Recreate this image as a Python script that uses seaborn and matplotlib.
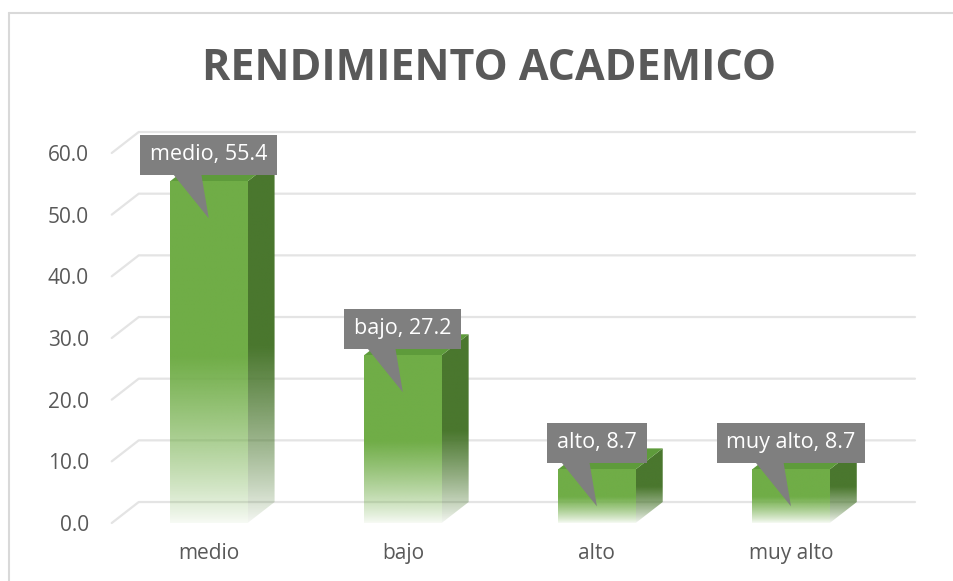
import numpy as np
import matplotlib
matplotlib.use("Agg")
import matplotlib.pyplot as plt
from matplotlib.patches import Polygon
from matplotlib.lines import Line2D
from matplotlib.colors import to_rgb
import seaborn as sns

# data
categories = ["medio", "bajo", "alto", "muy alto"]
values = [55.4, 27.2, 8.7, 8.7]
yticks = [0, 10, 20, 30, 40, 50, 60]
title = "RENDIMIENTO ACADEMICO"

sns.set_style("white")
plt.rcParams["font.family"] = ["Open Sans", "DejaVu Sans"]

GREEN = "#70AD47"
TOP = "#5E9B3B"
SIDE = "#4A772E"
GREY_TXT = "#595959"
GRID = "#E4E4E4"
CALLOUT = "#7F7F7F"

# pseudo 3D depth (in data units)
dx, dy = 0.139, 3.4
bw = 0.4
ppu = 6.167  # pixels per value unit

fig = plt.figure(figsize=(9.54, 5.81), dpi=100)
ax = fig.add_axes([111.75 / 954, 58 / 581, 803.25 / 954, 66 * ppu / 581])

sns.barplot(x=categories, y=values, width=bw, color=GREEN, ax=ax, zorder=3)

ax.set_xlim(-0.5, 3.5 + dx)
ax.set_ylim(0, 66)


def fade_img(rgb, n=256):
    t = np.linspace(0, 1, n)
    a = np.clip(0.03 + t / 0.5, 0, 1) ** 0.8
    img = np.zeros((n, 1, 4))
    img[:, 0, :3] = rgb
    img[:, 0, 3] = a
    return img


# back gridlines with slanted left part
for v in yticks:
    ax.plot([-0.5, -0.5 + dx, 3.5 + dx], [v, v + dy, v + dy],
            color=GRID, lw=1.6, zorder=1, clip_on=False)

for p, v in zip(ax.patches, values):
    x0 = p.get_x()
    x1 = x0 + p.get_width()
    p.set_facecolor("none")
    p.set_edgecolor("none")
    # front face gradient
    im = ax.imshow(fade_img(to_rgb(GREEN)), extent=[x0, x1, 0, v],
                   origin="lower", aspect="auto", zorder=3,
                   interpolation="bilinear")
    im.set_clip_path(p)
    # side face
    side = Polygon([(x1, 0), (x1 + dx, dy), (x1 + dx, v + dy), (x1, v)],
                   closed=True, fc="none", ec="none", zorder=2)
    ax.add_patch(side)
    ims = ax.imshow(fade_img(to_rgb(SIDE)), extent=[x1, x1 + dx, 0, v + dy],
                    origin="lower", aspect="auto", zorder=2,
                    interpolation="bilinear")
    ims.set_clip_path(side)
    # top face
    ax.add_patch(Polygon([(x0, v), (x1, v), (x1 + dx, v + dy), (x0 + dx, v + dy)],
                         closed=True, fc=TOP, ec="none", zorder=2.5))

# callouts
for i, (c, v) in enumerate(zip(categories, values)):
    ax.add_patch(Polygon([(i - 0.195, v + 1.6), (i - 0.041, v + 1.6), (i, v - 6.0)],
                         closed=True, fc=CALLOUT, ec="none", zorder=5))
    ax.text(i, v + 4.3, f"{c}, {v:.1f}", ha="center", va="center",
            color="white", fontsize=15.5, zorder=6,
            bbox=dict(boxstyle="square,pad=0.45", fc=CALLOUT, ec="none"))

ax.set_yticks(yticks)
ax.set_yticklabels([f"{v:.1f}" for v in yticks])
ax.set_xticks(range(len(categories)))
ax.set_xticklabels(categories)
ax.tick_params(axis="y", length=0, pad=16.4, labelsize=15, labelcolor=GREY_TXT)
ax.tick_params(axis="x", length=0, pad=14.5, labelsize=15, labelcolor=GREY_TXT)
ax.set_xlabel("")
ax.set_ylabel("")
sns.despine(ax=ax, left=True, bottom=True)

fig.text(489 / 954, 1 - 80 / 581, title, ha="center", va="baseline",
         fontsize=31, fontweight="bold", color=GREY_TXT)

# chart border (top and left only visible)
fig.add_artist(Line2D([9 / 954, 1], [1 - 13 / 581, 1 - 13 / 581], color="#D9D9D9", lw=1.5))
fig.add_artist(Line2D([9 / 954, 9 / 954], [0, 1 - 13 / 581], color="#D9D9D9", lw=1.5))

fig.savefig("out.png", dpi=100)
